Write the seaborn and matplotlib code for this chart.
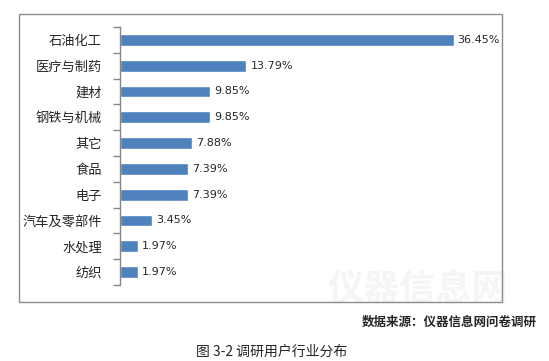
import numpy as np
import pandas as pd
import matplotlib
matplotlib.use("Agg")
import matplotlib.pyplot as plt
import seaborn as sns
from matplotlib.patches import Rectangle

# Data
industries = ["石油化工", "医疗与制药", "建材", "钢铁与机械", "其它",
              "食品", "电子", "汽车及零部件", "水处理", "纺织"]
shares = [36.45, 13.79, 9.85, 9.85, 7.88, 7.39, 7.39, 3.45, 1.97, 1.97]

source_note = "数据来源：仪器信息网问卷调研"
caption = "图 3-2 调研用户行业分布"

sns.set_style("white")
plt.rcParams['font.family'] = ['Noto Sans CJK SC', 'DejaVu Sans']

W, H = 549, 361
fig = plt.figure(figsize=(W / 100, H / 100), dpi=100)
fig.patch.set_facecolor("white")

# faint watermark
fig.text(418 / W, 1 - 290 / H, "仪器信息网", fontsize=26, fontweight="bold",
         color="#f5f5f5", ha="center", va="center", zorder=0)

# chart frame
fig.patches.append(Rectangle((19 / W, 1 - 302 / H), (502 - 19) / W, (302 - 14) / H,
                             transform=fig.transFigure, fill=False,
                             edgecolor="#8c8c8c", linewidth=1.0, zorder=1))

ax = fig.add_axes([120 / W, 1 - 285 / H, 366 / W, 258 / H])
df = pd.DataFrame({"industry": industries, "share": shares})
sns.barplot(data=df, x="share", y="industry", color="#4F81BD", width=0.45,
            saturation=1, ax=ax)

ax.set_xlim(0, 40)
ax.set_ylim(len(industries) - 0.5, -0.5)
ax.set_xlabel("")
ax.set_ylabel("")
ax.set_xticks([])
for s in ["top", "right", "bottom"]:
    ax.spines[s].set_visible(False)
ax.spines["left"].set_color("#868686")
ax.spines["left"].set_linewidth(1.0)
ax.set_yticks(np.arange(-0.5, len(industries), 1), minor=True)
ax.tick_params(axis="y", which="major", left=False, length=0, pad=13, labelsize=9.5)
ax.tick_params(axis="y", which="minor", left=True, length=5, color="#868686", width=1.0)
ax.patch.set_alpha(0)

ax.bar_label(ax.containers[0], labels=[f"{v:.2f}%" for v in shares],
             padding=3, fontsize=8, family="DejaVu Sans")

fig.text(537 / W, 1 - 322 / H, source_note, fontsize=9, fontweight="bold",
         ha="right", va="center")
fig.text(272 / W, 1 - 352 / H, caption, fontsize=10, ha="center", va="center")

fig.savefig("out.png", dpi=100)
